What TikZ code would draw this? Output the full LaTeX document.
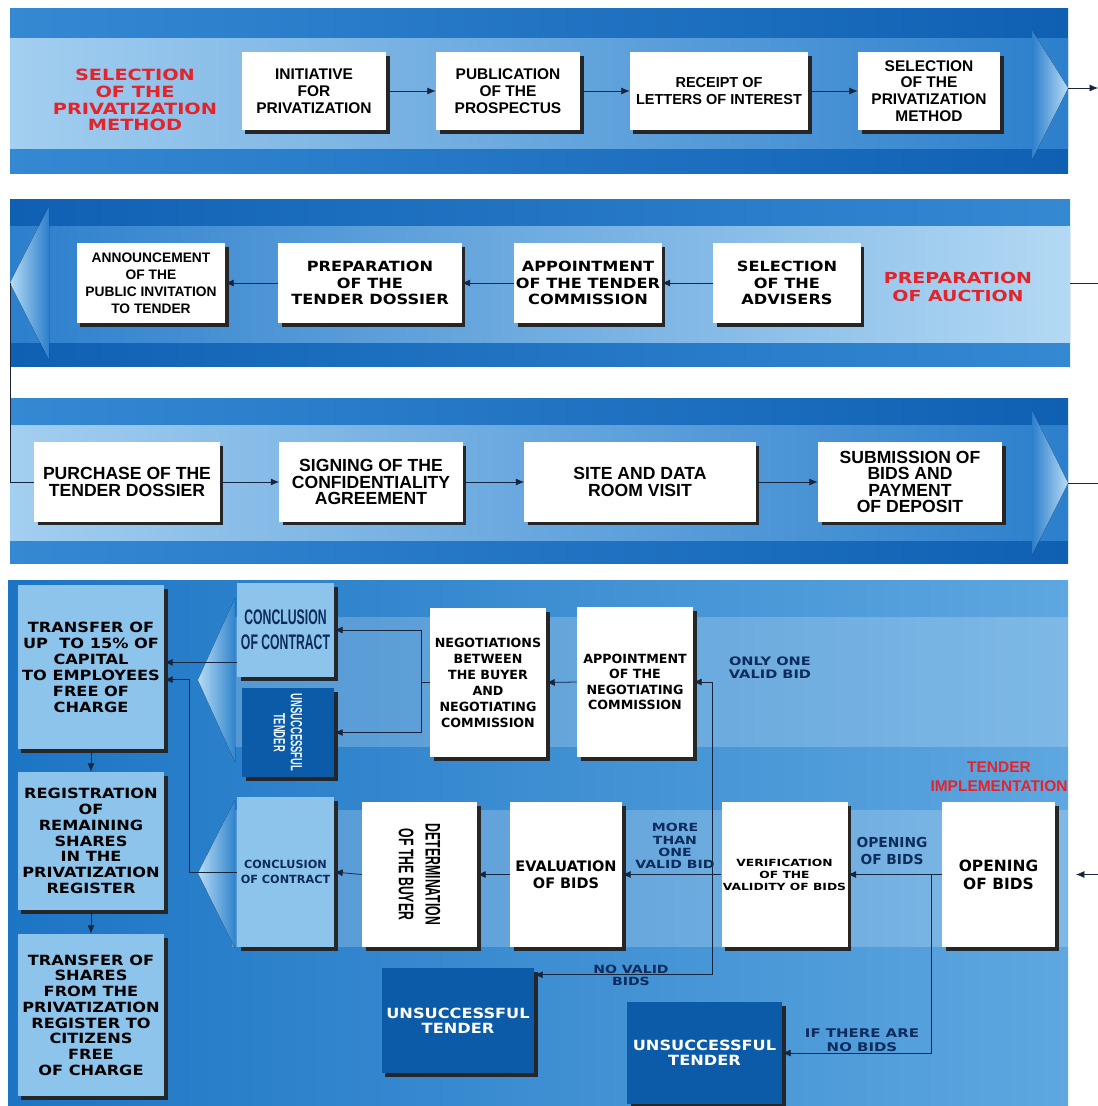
\documentclass[tikz,border=0pt]{standalone}
\usepackage{fontspec}
\setmainfont{Liberation Sans}
\newfontfamily\condfont{Liberation Sans}
\newfontfamily\widefont{DejaVu Sans}
\newfontfamily\wfont[FakeStretch=1.15]{DejaVu Sans}
\newfontfamily\extfont[FakeStretch=1.25]{DejaVu Sans}
\newfontfamily\narrowfont[FakeStretch=0.58]{Liberation Sans}
\usepackage{tikz}
\usetikzlibrary{arrows.meta,shadows}

\definecolor{bandA}{HTML}{3589D3}
\definecolor{bandB}{HTML}{0F60B3}
\definecolor{stripeA}{HTML}{A3CFF0}
\definecolor{stripeB}{HTML}{2C7FCC}
\definecolor{stripeC}{HTML}{B3D9F4}
\definecolor{chevL}{HTML}{B8DCF5}
\definecolor{bfourA}{HTML}{1C75C4}
\definecolor{bfourB}{HTML}{5EA7E0}
\definecolor{boxlight}{HTML}{8DC4EC}
\definecolor{boxdark}{HTML}{0C5BA8}
\definecolor{lblred}{HTML}{E4232B}
\definecolor{navy}{HTML}{0D2B5C}
\definecolor{linecol}{HTML}{17253D}

\tikzset{
  stepbox/.style={fill=white, text=black, align=center, inner sep=1pt,
    general shadow={fill=black!85, shadow xshift=2.5pt, shadow yshift=-2.5pt}},
  lightbox/.style={stepbox, fill=boxlight},
  darkbox/.style={stepbox, fill=boxdark, text=white},
  redlabel/.style={text=lblred, align=center, inner sep=0pt},
  condlabel/.style={text=navy, align=center, inner sep=0pt},
  conn/.style={draw=linecol, line width=0.55pt},
  arr/.style={conn, -{Latex[length=6pt,width=5pt]}},
  onefont/.style={font=\condfont\bfseries\fontsize{11}{12}\selectfont},
  twofont/.style={font=\wfont\bfseries\fontsize{10}{12}\selectfont},
  threefont/.style={font=\condfont\bfseries\fontsize{12.5}{11.6}\selectfont},
  lblfont/.style={font=\extfont\bfseries\fontsize{8.3}{9.2}\selectfont}
}

\begin{document}
\begin{tikzpicture}[x=0.025cm,y=-0.025cm]
\useasboundingbox (0,0) rectangle (1098,1106);
\fill[white] (0,0) rectangle (1098,1106);

\fill[left color=bandA, right color=bandB] (10,8) rectangle (1068,173);
\fill[left color=stripeA, right color=stripeB] (10,38) rectangle (1068,148);
\fill[left color=stripeB, right color=chevL] (1032,30) -- (1068,88) -- (1032,160) -- cycle;

\fill[left color=bandB, right color=bandA] (10,199) rectangle (1070,366);
\fill[left color=stripeB, right color=stripeC] (10,226) rectangle (1070,342);
\fill[left color=chevL, right color=stripeB] (10,283) -- (49,206) -- (49,360) -- cycle;

\fill[left color=bandA, right color=bandB] (10,398) rectangle (1068,563);
\fill[left color=stripeA, right color=stripeB] (10,425) rectangle (1068,540);
\fill[left color=stripeB, right color=chevL] (1032,410) -- (1068,483) -- (1032,555) -- cycle;

\fill[left color=bfourA, right color=bfourB] (8,580) rectangle (1068,1106);
\fill[white, opacity=0.2] (232,617) rectangle (1068,747);
\fill[white, opacity=0.2] (232,810) rectangle (1068,947);
\fill[left color=chevL, right color=bfourA!70!bfourB] (198,680) -- (235,598) -- (235,762) -- cycle;
\fill[left color=chevL, right color=bfourA!70!bfourB] (198,873) -- (235,800) -- (235,948) -- cycle;

\node[redlabel, font=\extfont\bfseries\fontsize{11}{12}\selectfont] (sel) at (135,100) {SELECTION\\OF THE\\PRIVATIZATION\\METHOD};
\node[stepbox, onefont, minimum width=3.6cm, minimum height=1.95cm] (ini) at (314,91) {INITIATIVE\\FOR\\PRIVATIZATION};
\node[stepbox, onefont, minimum width=3.6cm, minimum height=1.95cm] (pub) at (508,91) {PUBLICATION\\OF THE\\PROSPECTUS};
\node[stepbox, onefont, minimum width=4.45cm, minimum height=1.95cm, font=\condfont\bfseries\fontsize{10.3}{12}\selectfont] (rec) at (719,91) {RECEIPT OF\\LETTERS OF INTEREST};
\node[stepbox, onefont, minimum width=3.55cm, minimum height=1.95cm] (meth) at (929,91) {SELECTION\\OF THE\\PRIVATIZATION\\METHOD};

\node[stepbox, minimum width=3.7cm, minimum height=2cm, font=\condfont\bfseries\fontsize{9.8}{12}\selectfont] (ann) at (151,283) {ANNOUNCEMENT\\OF THE\\PUBLIC INVITATION\\TO TENDER};
\node[stepbox, twofont, minimum width=4.575cm, minimum height=2cm] (prep) at (370,283) {PREPARATION\\OF THE\\TENDER DOSSIER};
\node[stepbox, twofont, minimum width=3.65cm, minimum height=2cm] (app) at (588,283) {APPOINTMENT\\OF THE TENDER\\COMMISSION};
\node[stepbox, twofont, minimum width=3.675cm, minimum height=2cm] (adv) at (787,283) {SELECTION\\OF THE\\ADVISERS};
\node[redlabel, font=\extfont\bfseries\fontsize{10.8}{12.8}\selectfont] (auct) at (958,287) {PREPARATION\\OF AUCTION};

\node[stepbox, threefont, minimum width=4.625cm, minimum height=1.975cm] (pur) at (127,482) {PURCHASE OF THE\\TENDER DOSSIER};
\node[stepbox, threefont, minimum width=4.575cm, minimum height=1.975cm] (sig) at (371,482) {SIGNING OF THE\\CONFIDENTIALITY\\AGREEMENT};
\node[stepbox, threefont, minimum width=5.775cm, minimum height=1.975cm] (site) at (640,482) {SITE AND DATA\\ROOM VISIT};
\node[stepbox, threefont, minimum width=4.6cm, minimum height=1.975cm] (sub) at (910,482) {SUBMISSION OF\\BIDS AND\\PAYMENT\\OF DEPOSIT};

\node[lightbox, minimum width=3.65cm, minimum height=4.1cm, font=\wfont\bfseries\fontsize{10}{11.4}\selectfont] (emp) at (91,667) {TRANSFER OF\\UP~~TO 15\% OF\\CAPITAL\\TO EMPLOYEES\\FREE OF\\CHARGE};
\node[lightbox, minimum width=3.65cm, minimum height=3.45cm, font=\wfont\bfseries\fontsize{10}{11.2}\selectfont] (reg) at (91,841) {REGISTRATION\\OF\\REMAINING\\SHARES\\IN THE\\PRIVATIZATION\\REGISTER};
\node[lightbox, minimum width=3.65cm, minimum height=4.05cm, font=\wfont\bfseries\fontsize{10}{11.2}\selectfont] (cit) at (91,1015) {TRANSFER OF\\SHARES\\FROM THE\\PRIVATIZATION\\REGISTER TO\\CITIZENS\\FREE\\OF CHARGE};

\node[lightbox, minimum width=2.425cm, minimum height=2.35cm, text=navy, font=\narrowfont\bfseries\fontsize{15}{17.8}\selectfont] (conA) at (285.5,630) {CONCLUSION\\OF CONTRACT};
\node[darkbox, minimum width=2.3cm, minimum height=2.225cm, text=white!85!boxlight, font=\narrowfont\bfseries\fontsize{11.5}{12}\selectfont] (unsA) at (288,732.5) {\rotatebox{-90}{\parbox{2.05cm}{\centering UNSUCCESSFUL\\TENDER}}};
\node[stepbox, minimum width=2.9cm, minimum height=3.725cm, font=\widefont\bfseries\fontsize{9}{11.4}\selectfont] (neg) at (488,682.5) {NEGOTIATIONS\\BETWEEN\\THE BUYER\\AND\\NEGOTIATING\\COMMISSION};
\node[stepbox, minimum width=2.9cm, minimum height=3.75cm, font=\widefont\bfseries\fontsize{9}{11}\selectfont] (ncom) at (635,682) {APPOINTMENT\\OF THE\\NEGOTIATING\\COMMISSION};
\node[condlabel, lblfont] (one) at (770,668) {ONLY ONE\\VALID BID};

\node[lightbox, minimum width=2.425cm, minimum height=3.75cm, text=navy, font=\widefont\bfseries\fontsize{8}{10.5}\selectfont] (conB) at (285.5,872) {CONCLUSION\\OF CONTRACT};
\node[stepbox, minimum width=2.875cm, minimum height=3.625cm, font=\narrowfont\bfseries\fontsize{15}{19}\selectfont] (det) at (419.5,874.5) {\rotatebox{-90}{\parbox{3cm}{\centering DETERMINATION\\OF THE BUYER}}};
\node[stepbox, minimum width=2.8cm, minimum height=3.625cm, font=\widefont\bfseries\fontsize{10.3}{12}\selectfont] (eval) at (566,874.5) {EVALUATION\\OF BIDS};
\node[condlabel, font=\extfont\bfseries\fontsize{8}{8.8}\selectfont] (more) at (675,846) {MORE\\THAN\\ONE\\VALID BID};
\node[stepbox, minimum width=2.875cm, minimum height=3.625cm, font=\extfont\bfseries\fontsize{7}{8.5}\selectfont] (ver) at (784.5,874.5) {VERIFICATION\\OF THE\\VALIDITY OF BIDS};
\node[condlabel, font=\widefont\bfseries\fontsize{9.8}{12}\selectfont] (openl) at (892,851) {OPENING\\OF BIDS};
\node[stepbox, minimum width=2.825cm, minimum height=3.625cm, font=\widefont\bfseries\fontsize{11}{13}\selectfont] (open) at (998.5,874.5) {OPENING\\OF BIDS};
\node[redlabel, font=\condfont\bfseries\fontsize{11}{13.5}\selectfont] (impl) at (999,777) {TENDER\\IMPLEMENTATION};

\node[darkbox, minimum width=3.8cm, minimum height=2.625cm, font=\wfont\bfseries\fontsize{10}{10.8}\selectfont] (unsB) at (458,1020.5) {UNSUCCESSFUL\\TENDER};
\node[condlabel, font=\extfont\bfseries\fontsize{8}{8.5}\selectfont] (novalid) at (631,975) {NO VALID\\BIDS};
\node[darkbox, minimum width=3.875cm, minimum height=2.55cm, font=\wfont\bfseries\fontsize{10}{10.8}\selectfont] (unsC) at (704.5,1053) {UNSUCCESSFUL\\TENDER};
\node[condlabel, font=\extfont\bfseries\fontsize{8.5}{10}\selectfont] (nobids) at (862,1040) {IF THERE ARE\\NO BIDS};

\coordinate (tip1) at (1068,88);
\coordinate (edge1) at (1098,88);
\coordinate (tip2) at (1070,283);
\coordinate (tip2w) at (10,283);
\coordinate (tip3) at (1068,483);
\coordinate (openin) at (1076,874.5);

\draw[arr] (ini.east) -- (pub.west);
\draw[arr] (pub.east) -- (rec.west);
\draw[arr] (rec.east) -- (meth.west);
\draw[arr] (tip1) -- (edge1);
\draw[conn] (edge1) -- (1115,88) |- (tip2);

\draw[arr] (adv.west) -- (app.east);
\draw[arr] (app.west) -- (prep.east);
\draw[arr] (prep.west) -- (ann.east);
\draw[conn] (tip2w) |- (pur.west);

\draw[arr] (pur.east) -- (sig.west);
\draw[arr] (sig.east) -- (site.west);
\draw[arr] (site.east) -- (sub.west);
\draw[arr] (tip3) -- (1115,483) |- (openin);

\draw[arr] (open.west) -- (ver.east);
\draw[arr] (open.west) -- ++(-10,0) |- (unsC.east);
\draw[arr] (ver.west) -- ++(-9,0) |- (ncom.east);
\draw[arr] (ver.west) -- ++(-9,0) -- (eval.east);
\draw[arr] (ver.west) -- ++(-9,0) |- ([yshift=-5pt]unsB.north east);
\draw[arr] (ncom.west) -- (neg.east);
\draw[arr] (neg.west) -- ++(-8,0) |- (conA.east);
\draw[arr] (neg.west) -- ++(-8,0) |- (unsA.east);
\draw[arr] (eval.west) -- (det.east);
\draw[arr] (det.west) -- (conB.east);
\draw[arr] ([yshift=-23pt]conA.west) -- ([yshift=-23pt]conA.west -| emp.east);
\draw[arr] (conB.west) -- ++(-47,0) |- ([yshift=-9pt]emp.east);
\draw[arr] (emp.south) -- (reg.north);
\draw[arr] (reg.south) -- (cit.north);
\end{tikzpicture}
\end{document}
